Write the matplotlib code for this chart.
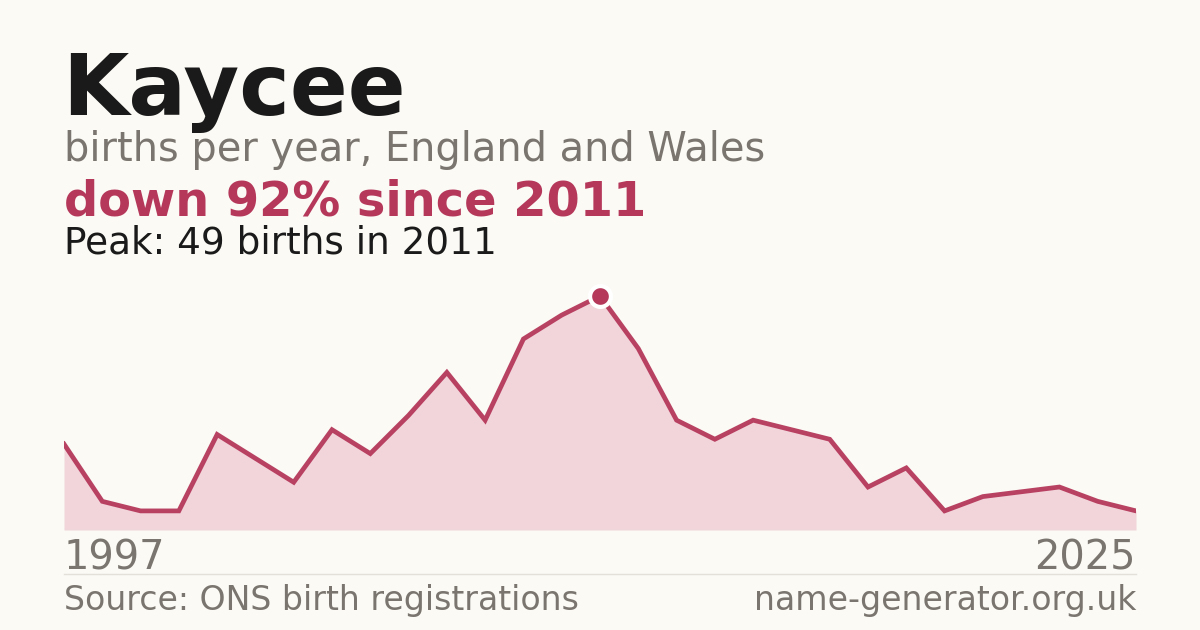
import matplotlib
matplotlib.use("Agg")
import matplotlib.pyplot as plt

# ---- data ----
name = "Kaycee"
years = list(range(1997, 2026))
births = [18, 6, 4, 4, 20, 15, 10, 21, 16, 24, 33, 23, 40, 45, 49,
          38, 23, 19, 23, 21, 19, 9, 13, 4, 7, 8, 9, 6, 4]
peak_year = 2011
peak_val = 49

BG = "#fbfaf5"
RED = "#b5385a"
FILL = "#f2d5db"
GREY = "#7a756e"
INK = "#1a1a1a"
RULE = "#e3dfd9"

W, H = 1200, 630


def fx(px):
    return px / W


def fy(py):
    return 1 - py / H


fig = plt.figure(figsize=(12, 6.3), dpi=100, facecolor=BG)

# ---- header text ----
fig.text(fx(62), fy(115), name, fontsize=61.6, fontweight="bold", color=INK,
         va="baseline", ha="left")
fig.text(fx(64), fy(161), "births per year, England and Wales", fontsize=28.7,
         color=GREY, va="baseline", ha="left")
drop = round((peak_val - births[-1]) / peak_val * 100)
fig.text(fx(64), fy(215), f"down {drop}% since {peak_year}", fontsize=34.5,
         fontweight="bold", color=RED, va="baseline", ha="left")
fig.text(fx(64), fy(254), f"Peak: {peak_val} births in {peak_year}", fontsize=26.9,
         color=INK, va="baseline", ha="left")

# ---- area chart ----
top_px, base_px = 280, 530
ax = fig.add_axes([fx(64), fy(base_px), fx(1136) - fx(64), (base_px - top_px) / H])
ax.set_facecolor("none")
ax.fill_between(years, births, 0, color=FILL, lw=0)
ax.plot(years, births, color=RED, lw=3.4, alpha=0.95, solid_joinstyle="miter")
ax.plot([peak_year], [peak_val], "o", ms=15, color=RED, mec="white", mew=3,
        clip_on=False, zorder=5)
ax.axhline(0, color=RULE, lw=1)
ax.set_xlim(years[0], years[-1])
ax.set_ylim(0, peak_val * (base_px - top_px) / (base_px - 296))
ax.axis("off")

# ---- footer ----
fig.text(fx(64), fy(570), str(years[0]), fontsize=28.7, color=GREY,
         va="baseline", ha="left")
fig.text(fx(1136), fy(570), str(years[-1]), fontsize=28.7, color=GREY,
         va="baseline", ha="right")
fig.add_artist(plt.Line2D([fx(64), fx(1136)], [fy(574), fy(574)], color=RULE, lw=1))
fig.text(fx(64), fy(610), "Source: ONS birth registrations", fontsize=23.9, color=GREY,
         va="baseline", ha="left")
fig.text(fx(1136), fy(610), "name-generator.org.uk", fontsize=23.9, color=GREY,
         va="baseline", ha="right")

fig.savefig("out.png", dpi=100, facecolor=BG)
